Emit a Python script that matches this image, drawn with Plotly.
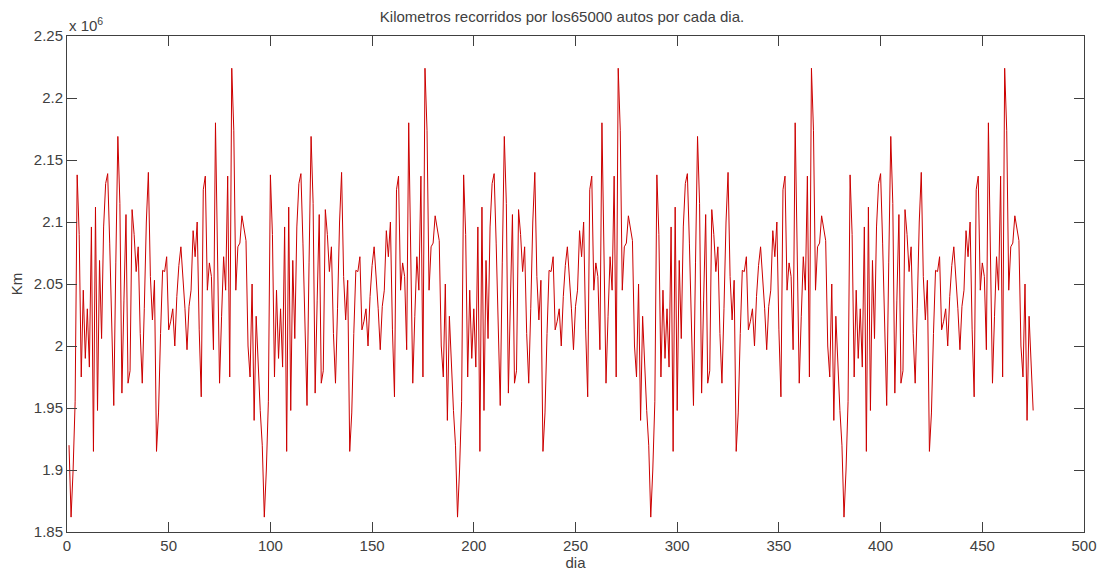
import plotly.graph_objects as go

# One 95-day cycle of the daily total (units: 10^6 km).
# The reference series repeats this same cycle 5 times (days 1..475).
cycle_km_millions = [
    1.920, 1.862, 1.900, 1.955, 2.138, 2.090, 1.975, 2.045, 1.990, 2.030,
    1.983, 2.096, 1.915, 2.112, 1.948, 2.069, 2.006, 2.096, 2.131, 2.139,
    2.083, 2.018, 1.952, 2.067, 2.169, 2.115, 1.962, 2.037, 2.106, 1.970,
    1.980, 2.110, 2.090, 2.060, 2.080, 2.010, 1.970, 2.030, 2.100, 2.140,
    2.056, 2.021, 2.053, 1.915, 1.946, 2.010, 2.061, 2.060, 2.072, 2.013,
    2.020, 2.030, 2.000, 2.040, 2.065, 2.080, 2.056, 2.030, 1.997, 2.032,
    2.045, 2.093, 2.072, 2.100, 2.013, 1.959, 2.126, 2.137, 2.045, 2.067,
    2.056, 1.997, 2.180, 2.060, 1.970, 2.024, 2.072, 2.045, 2.137, 1.975,
    2.224, 2.174, 2.045, 2.080, 2.083, 2.105, 2.096, 2.085, 2.000, 1.975,
    2.050, 1.940, 2.024, 1.978, 1.948,
]
n_cycles = 5
km_millions = cycle_km_millions * n_cycles
days = list(range(1, len(km_millions) + 1))

x_ticks = [0, 50, 100, 150, 200, 250, 300, 350, 400, 450, 500]
y_ticks = [1.85, 1.9, 1.95, 2.0, 2.05, 2.1, 2.15, 2.2, 2.25]
y_tick_text = ["1.85", "1.9", "1.95", "2", "2.05", "2.1", "2.15", "2.2", "2.25"]

title_text = "Kilometros recorridos por los65000 autos por cada dia."

fig = go.Figure()
fig.add_trace(go.Scatter(
    x=days, y=km_millions, mode="lines",
    line=dict(color="#cc0000", width=1),
    showlegend=False, hoverinfo="x+y",
))

axis_common = dict(
    showgrid=False, zeroline=False, automargin=False,
    showline=True, linecolor="#404040", linewidth=1, mirror="ticks",
    ticks="inside", ticklen=10, tickcolor="#404040", tickwidth=1,
    tickfont=dict(size=15, color="#404040"),
)

fig.update_layout(
    width=1108, height=574,
    paper_bgcolor="white", plot_bgcolor="white",
    font=dict(family="Liberation Sans, Arial, sans-serif", color="#404040"),
    margin=dict(l=59, r=32, t=28, b=50),
    title=dict(text=title_text, x=0.5, xanchor="center", y=0.994, yanchor="top",
               font=dict(size=15, color="#404040")),
    xaxis=dict(range=[0, 500], tickvals=x_ticks,
               title=dict(text="dia", font=dict(size=15), standoff=2), **axis_common),
    yaxis=dict(range=[1.85, 2.25], tickvals=y_ticks, ticktext=y_tick_text,
               title=dict(text="Km", font=dict(size=15), standoff=8), **axis_common),
    annotations=[dict(
        text="x 10<sup>6</sup>", xref="paper", yref="paper", x=0, y=1,
        xanchor="left", yanchor="bottom", showarrow=False,
        font=dict(size=15, color="#404040"), yshift=0,
    )],
)

fig.write_html("out.html")
